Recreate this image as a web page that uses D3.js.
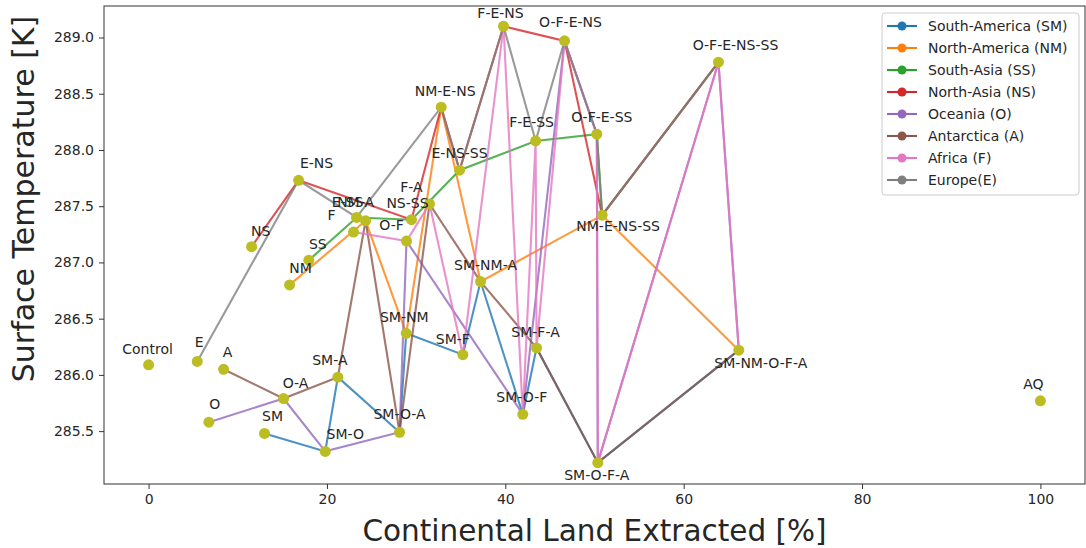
<!DOCTYPE html>
<html>
<head>
<meta charset="utf-8">
<script src="https://cdn.jsdelivr.net/npm/d3@7"></script>
<style>
  body { margin: 0; background: #fff; }
  svg { font-family: "DejaVu Sans", sans-serif; }
</style>
</head>
<body>
<script>
// experiment names (continents removed), % land extracted, surface temperature
var experiments = [
    'Control', 'E', 'A', 'O', 'SM', 'O-A', 'SM-A', 'SM-O', 'SM-O-A',
    'NS', 'E-NS', 'SS', 'NM', 'E-SS', 'NM-A', 'F', 'NS-SS', 'O-F', 'F-A',
    'NM-E-NS', 'E-NS-SS', 'F-E-NS', 'O-F-E-NS', 'F-E-SS', 'O-F-E-SS',
    'NM-E-NS-SS', 'O-F-E-NS-SS', 'SM-NM', 'SM-F', 'SM-NM-A', 'SM-F-A',
    'SM-O-F', 'SM-O-F-A', 'SM-NM-O-F-A', 'AQ'
];
var landExtracted = [
    0, 5.46, 8.41, 6.76, 13.0, 15.13, 21.22, 19.81, 28.14,
    11.55, 16.82, 17.97, 15.81, 23.32, 24.33, 22.98, 29.48, 28.92, 31.50,
    32.81, 34.87, 39.80, 46.64, 43.40, 50.26,
    50.86, 63.90, 28.89, 35.24, 37.22, 43.50,
    41.96, 50.37, 66.18, 100
];
var surfaceTemp = [
    286.09, 286.12, 286.05, 285.58, 285.48, 285.79, 285.98, 285.32, 285.49,
    287.14, 287.73, 287.02, 286.80, 287.40, 287.37, 287.27, 287.38, 287.19, 287.52,
    288.38, 287.82, 289.10, 288.97, 288.08, 288.14,
    287.42, 288.78, 286.37, 286.18, 286.83, 286.24,
    285.65, 285.22, 286.22, 285.77
];

var continentCodes = ['SM', 'NM', 'SS', 'NS', 'O', 'A', 'F', 'E'];
var continentNames = [
    'South-America (SM)', 'North-America (NM)', 'South-Asia (SS)', 'North-Asia (NS)',
    'Oceania (O)', 'Antarctica (A)', 'Africa (F)', 'Europe(E)'
];
var xTicks = [0, 20, 40, 60, 80, 100];
var yTicks = [285.5, 286.0, 286.5, 287.0, 287.5, 288.0, 288.5, 289.0];

window.onload = function(){

    var colors = ['#1f77b4', '#ff7f0e', '#2ca02c', '#d62728', '#9467bd', '#8c564b', '#e377c2', '#7f7f7f'];
    var pointColor = '#bcbd22';

    // label offsets from the point (text centre), in px
    var nudge = {
        'Control': [-1, -16], 'E': [2, -19], 'A': [4, -17], 'O': [6, -18], 'SM': [8, -17],
        'O-A': [12, -16], 'SM-A': [-8, -17], 'SM-O': [20, -17], 'SM-O-A': [0, -18],
        'NS': [9, -16], 'E-NS': [18, -17], 'SS': [9, -16], 'NM': [11, -17],
        'E-SS': [-9, -15], 'NM-A': [-10, -19], 'F': [-22, -17], 'NS-SS': [-4, -17],
        'O-F': [-15, -16], 'F-A': [-18, -17], 'NM-E-NS': [4, -16], 'E-NS-SS': [0, -17],
        'F-E-NS': [-3, -13], 'O-F-E-NS': [6, -19], 'F-E-SS': [-4, -19], 'O-F-E-SS': [5, -17],
        'NM-E-NS-SS': [16, 11], 'O-F-E-NS-SS': [17, -17], 'SM-NM': [-2, -16], 'SM-F': [-10, -16],
        'SM-NM-A': [5, -17], 'SM-F-A': [-1, -16], 'SM-O-F': [-1, -17], 'SM-O-F-A': [-1, 12],
        'SM-NM-O-F-A': [22, 13], 'AQ': [-7, -17]
    };

    var margin = {left: 104, right: 1085, top: 6, bottom: 484};

    var points = experiments.map(function(name, i){
        return {name: name, x: landExtracted[i], y: surfaceTemp[i]};
    });

    var svg = d3.select(document.body).append('svg')
        .attr('width', 1086)
        .attr('height', 548);

    var x = d3.scaleLinear().domain([-5, 105]).range([margin.left, margin.right]);
    var y = d3.scaleLinear().domain([285.03, 289.28]).range([margin.bottom, margin.top]);

    // axes
    var xAxis = svg.append('g')
        .attr('transform', 'translate(0,' + margin.bottom + ')')
        .call(d3.axisBottom(x).tickValues(xTicks).tickSize(5).tickPadding(5).tickSizeOuter(0));
    var yAxis = svg.append('g')
        .attr('transform', 'translate(' + margin.left + ',0)')
        .call(d3.axisLeft(y).tickValues(yTicks).tickFormat(d3.format('.1f')).tickSize(5).tickPadding(5).tickSizeOuter(0));
    [xAxis, yAxis].forEach(function(g){
        g.select('.domain').remove();
        g.selectAll('.tick line').attr('stroke', '#333');
        g.selectAll('.tick text').attr('font-size', 14).attr('fill', '#262626')
            .attr('font-family', '"DejaVu Sans", sans-serif');
    });

    // frame
    svg.append('rect')
        .attr('x', margin.left).attr('y', margin.top)
        .attr('width', margin.right - margin.left)
        .attr('height', margin.bottom - margin.top)
        .attr('fill', 'none').attr('stroke', '#333').attr('stroke-width', 1);

    // one line per continent: every experiment that removes it, ordered by land extracted
    var line = d3.line().x(function(d){ return x(d.x); }).y(function(d){ return y(d.y); });
    continentCodes.forEach(function(code, i){
        var members = points.filter(function(p){
            return p.name.split('-').indexOf(code) >= 0;
        }).sort(function(a, b){ return a.x - b.x; });
        svg.append('path')
            .datum(members)
            .attr('d', line)
            .attr('fill', 'none')
            .attr('stroke', colors[i])
            .attr('stroke-opacity', 0.8)
            .attr('stroke-width', 2.1);
    });

    // points
    svg.append('g').selectAll('circle').data(points).enter()
        .append('circle')
        .attr('cx', function(d){ return x(d.x); })
        .attr('cy', function(d){ return y(d.y); })
        .attr('r', 5.5)
        .attr('fill', pointColor);

    // labels
    svg.append('g').selectAll('text').data(points).enter()
        .append('text')
        .attr('x', function(d){ return x(d.x) + nudge[d.name][0]; })
        .attr('y', function(d){ return y(d.y) + nudge[d.name][1]; })
        .attr('dy', '0.36em')
        .attr('text-anchor', 'middle')
        .attr('font-size', 14)
        .attr('fill', '#262626')
        .text(function(d){ return d.name; });

    // axis titles
    svg.append('text')
        .attr('x', (margin.left + margin.right) / 2)
        .attr('y', 541)
        .attr('text-anchor', 'middle')
        .attr('font-size', 29.5)
        .attr('fill', '#262626')
        .text('Continental Land Extracted [%]');
    svg.append('text')
        .attr('transform', 'translate(34,199) rotate(-90)')
        .attr('text-anchor', 'middle')
        .attr('font-size', 30)
        .attr('fill', '#262626')
        .text('Surface Temperature [K]');

    // legend
    var legend = svg.append('g').attr('transform', 'translate(882,13)');
    legend.append('rect')
        .attr('width', 197).attr('height', 182)
        .attr('rx', 3)
        .attr('fill', '#fff').attr('fill-opacity', 0.8)
        .attr('stroke', '#ccc');
    var items = legend.selectAll('g.item').data(continentNames).enter()
        .append('g')
        .attr('transform', function(d, i){ return 'translate(0,' + (13 + i * 22) + ')'; });
    items.append('line')
        .attr('x1', 5).attr('x2', 35)
        .attr('stroke', function(d, i){ return colors[i]; })
        .attr('stroke-width', 2.1);
    items.append('circle')
        .attr('cx', 20).attr('r', 4.5)
        .attr('fill', function(d, i){ return colors[i]; });
    items.append('text')
        .attr('x', 46).attr('dy', '0.36em')
        .attr('font-size', 14)
        .attr('fill', '#262626')
        .text(function(d){ return d; });
};
</script>
</body>
</html>
